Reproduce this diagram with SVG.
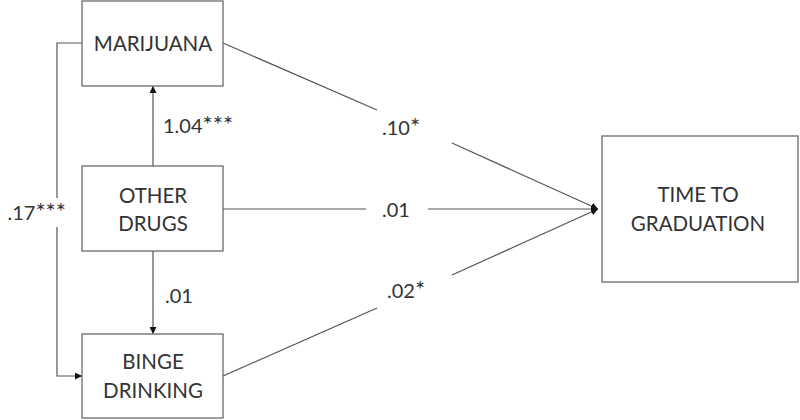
<svg xmlns="http://www.w3.org/2000/svg" width="800" height="420" viewBox="0 0 800 420">
<style>
.box{fill:#fff;stroke:#6b6b6b;stroke-width:1.3}
.t{font-family:Lato,"Open Sans",sans-serif;font-size:20.5px;fill:#333;text-anchor:middle}
.l{font-family:Lato,"Open Sans",sans-serif;font-size:20px;fill:#333}
.c{fill:none;stroke:#555;stroke-width:1.2}
</style>
<defs>
<marker id="ah" viewBox="0 0 10 10" refX="10" refY="5" markerWidth="7" markerHeight="7" orient="auto" markerUnits="userSpaceOnUse">
<path d="M0,0 L10,5 L0,10 z" fill="#111"/>
</marker>
</defs>
<rect width="800" height="420" fill="#fff"/>
<g id="connectors">
<path class="c" d="M82,43 H57 V198"/>
<path class="c" d="M57,227 V376 H82" marker-end="url(#ah)"/>
<path class="c" d="M153,166 V86" marker-end="url(#ah)"/>
<path class="c" d="M153,251 V334" marker-end="url(#ah)"/>
<path class="c" d="M223,43 L377,110"/>
<path class="c" d="M452,143 L598,209" marker-end="url(#ah)"/>
<path class="c" d="M223,209 H366"/>
<path class="c" d="M428,209 H598" marker-end="url(#ah)"/>
<path class="c" d="M223,376 L377,308"/>
<path class="c" d="M452,275 L598,209" marker-end="url(#ah)"/>
<text class="l" x="66" y="220" text-anchor="end">.17<tspan font-size="24">***</tspan></text>
<text class="l" x="163" y="133">1.04<tspan font-size="24">***</tspan></text>
<text class="l" x="165" y="303">.01</text>
<text class="l" x="382" y="135">.10<tspan font-size="24">*</tspan></text>
<text class="l" x="382" y="217">.01</text>
<text class="l" x="387" y="298">.02<tspan font-size="24">*</tspan></text>
</g>
<g id="marijuana">
<rect class="box" x="82" y="1" width="141" height="85"/>
<text class="t" x="153" y="51">MARIJUANA</text>
</g>
<g id="other-drugs">
<rect class="box" x="82" y="166" width="141" height="85"/>
<text class="t" x="153" y="203">OTHER</text>
<text class="t" x="153" y="231">DRUGS</text>
</g>
<g id="binge-drinking">
<rect class="box" x="82" y="334" width="141" height="84"/>
<text class="t" x="153" y="369">BINGE</text>
<text class="t" x="153" y="398">DRINKING</text>
</g>
<g id="time-to-graduation">
<rect class="box" x="602" y="136" width="196" height="146"/>
<text class="t" x="698" y="202">TIME TO</text>
<text class="t" x="698" y="231">GRADUATION</text>
</g>
</svg>
